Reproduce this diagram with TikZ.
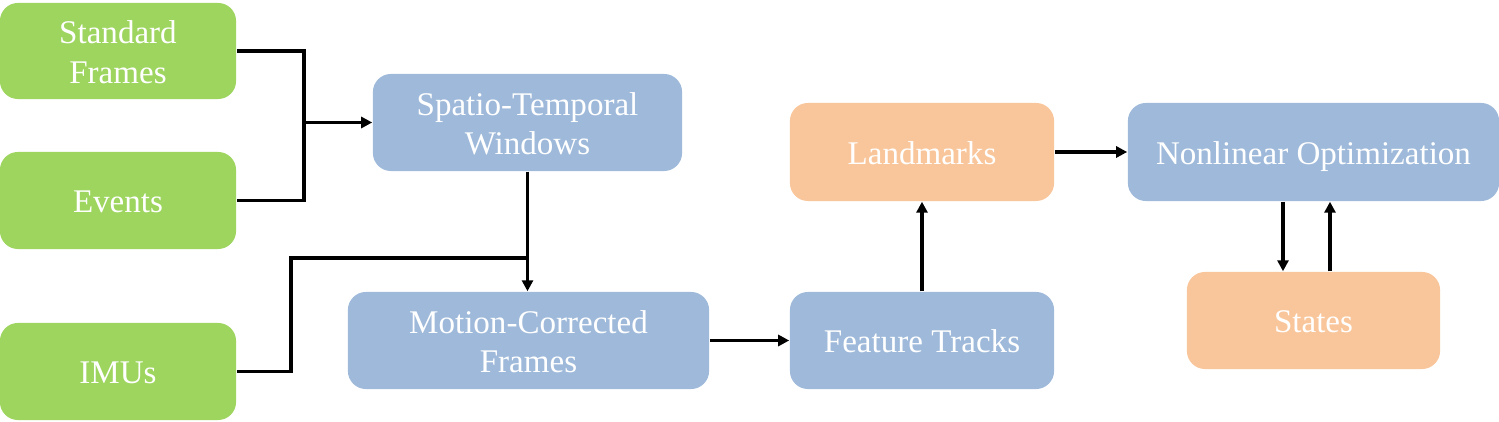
\documentclass[tikz,border=0pt]{standalone}
\usepackage{fontspec}
\setmainfont{Liberation Serif}
\usetikzlibrary{arrows.meta,calc}
\definecolor{gfill}{HTML}{9DD55E}
\definecolor{bfill}{HTML}{9EB9DA}
\definecolor{ofill}{HTML}{F9C69B}
\tikzset{
  box/.style={rounded corners=0.18cm, draw=none, text=white, align=center,
    inner sep=0pt, font=\fontsize{9.4}{11.1}\selectfont,
    text height=0.25cm, text depth=0pt},
  twoline/.style={text height=0.64cm, text depth=0pt},
  gbox/.style={box, fill=gfill},
  bbox/.style={box, fill=bfill},
  obox/.style={box, fill=ofill},
  conn/.style={line width=0.95pt, black},
  arr/.style={conn, -{Triangle[length=0.11cm,width=0.11cm]}}
}
\begin{document}
\begin{tikzpicture}[x=0.01cm,y=-0.01cm]
\useasboundingbox (0,0) rectangle (1499,422);
\node[gbox, twoline, minimum width=2.36cm, minimum height=0.96cm] (std) at (118,51) {Standard\\Frames};
\node[gbox, minimum width=2.36cm, minimum height=0.97cm] (ev) at (118,200.5) {Events};
\node[gbox, minimum width=2.36cm, minimum height=0.97cm] (imu) at (118,371.5) {IMUs};
\node[bbox, twoline, minimum width=3.09cm, minimum height=0.97cm] (stw) at (527.5,122.5) {Spatio-Temporal\\Windows};
\node[bbox, twoline, minimum width=3.61cm, minimum height=0.97cm] (mcf) at (528.5,340.5) {Motion-Corrected\\Frames};
\node[obox, minimum width=2.64cm, minimum height=0.98cm] (lm) at (922,152) {Landmarks};
\node[bbox, minimum width=2.64cm, minimum height=0.97cm] (ft) at (922,340.5) {Feature Tracks};
\node[bbox, minimum width=3.71cm, minimum height=0.98cm] (nlo) at (1313.5,152) {Nonlinear Optimization};
\node[obox, minimum width=2.53cm, minimum height=0.97cm] (st) at (1313.5,320.5) {States};

\coordinate (j1) at (304,122.5);
\coordinate (j2) at (291,258);
\draw[conn] (std.east) -| (j1) |- (ev.east);
\draw[arr] (j1) -- (stw.west);
\draw[arr] (stw.south) -- (stw.south |- mcf.north);
\draw[conn] (imu.east) -| (j2) -- (j2 -| stw.south);
\draw[arr] (mcf.east) -- (mcf.east -| ft.west);
\draw[arr] (ft.north) -- (lm.south);
\draw[arr] (lm.east) -- (lm.east -| nlo.west);
\draw[arr] ($(nlo.south)+(-30.5,0)$) -- ($(st.north)+(-30.5,0)$);
\draw[arr] ($(st.north)+(16.5,0)$) -- ($(nlo.south)+(16.5,0)$);
\end{tikzpicture}
\end{document}
